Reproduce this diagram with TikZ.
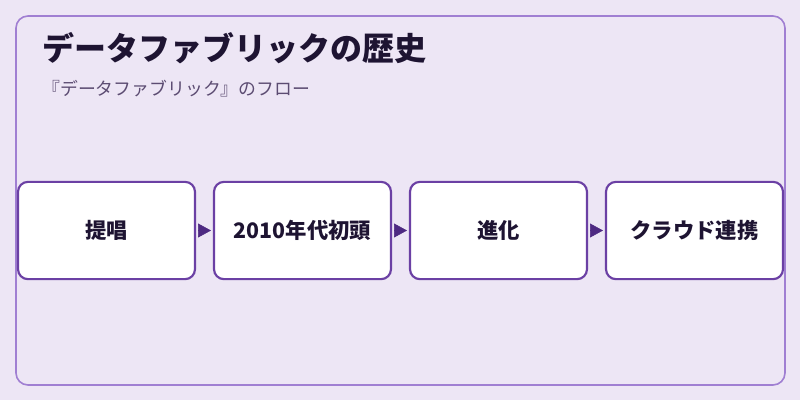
\documentclass[tikz,border=0pt]{standalone}
\usepackage{fontspec}
\usetikzlibrary{positioning,arrows.meta}
\newfontfamily\jp{Noto Sans CJK JP}
\definecolor{bgpurple}{HTML}{EDE6F5}
\definecolor{framepurple}{HTML}{A07FD2}
\definecolor{boxpurple}{HTML}{6B40A4}
\definecolor{tippurple}{HTML}{4E2A82}
\definecolor{inkdark}{HTML}{1E1432}
\definecolor{subgray}{HTML}{5C4C72}
\tikzset{
  stage/.style={draw=boxpurple, line width=1.6pt, fill=white, rounded corners=7.5pt,
    minimum width=132.75pt, minimum height=73pt, inner sep=0pt, outer sep=0pt,
    font=\jp\bfseries\fontsize{16}{19}\selectfont, text=inkdark},
  flow/.style={tippurple, line width=0.4pt, -{Triangle[length=9.75pt,width=10.5pt]},
    shorten >=2.25pt, shorten <=2.25pt}
}
\begin{document}
\begin{tikzpicture}[x=0.75pt, y=-0.75pt]
  \fill[bgpurple] (0,0) rectangle (800,400); % page colour
  \useasboundingbox (0,0) rectangle (800,400);
  \draw[framepurple, line width=1.2pt, rounded corners=9pt] (16,16) rectangle (785,385); % outer card
  \node[anchor=base west, inner sep=0pt, text=inkdark, font=\jp\bfseries\fontsize{24}{28}\selectfont] (title) at (42,60) {データファブリックの歴史};
  \node[anchor=base west, inner sep=0pt, text=subgray, font=\jp\fontsize{13.4}{16}\selectfont] (subtitle) at (42,95) {『データファブリック』のフロー};
  \node[stage] (s1) at (106.5,230.5) {提唱};
  \node[stage, right=14.25pt of s1] (s2) {2010年代初頭};
  \node[stage, right=14.25pt of s2] (s3) {進化};
  \node[stage, right=14.25pt of s3] (s4) {クラウド連携};
  \draw[flow] (s1) -- (s2); % tip sits in the gap
  \draw[flow] (s2) -- (s3);
  \draw[flow] (s3) -- (s4);
\end{tikzpicture}
\end{document}
